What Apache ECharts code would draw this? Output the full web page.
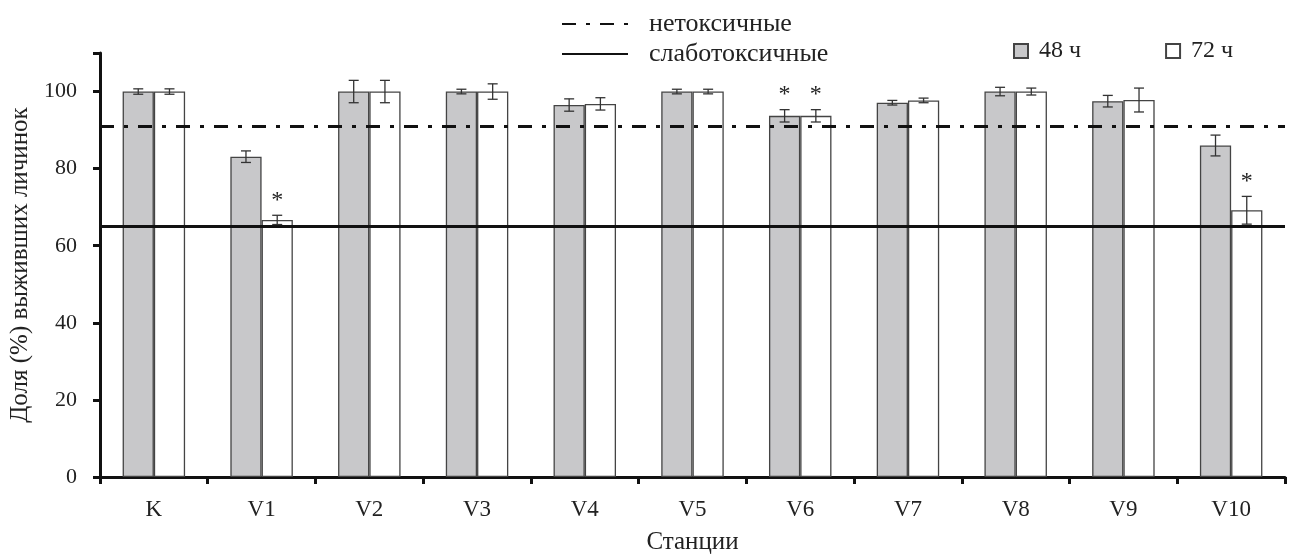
<!DOCTYPE html>
<html>
<head>
<meta charset="utf-8">
<script src="https://cdn.jsdelivr.net/npm/echarts@6/dist/echarts.min.js"></script>
<style>
html,body{margin:0;padding:0;background:#fff;}
#chart{width:1290px;height:555px;}
</style>
</head>
<body>
<div id="chart"></div>
<script>
const categories = ['K','V1','V2','V3','V4','V5','V6','V7','V8','V9','V10'];
const mean48 = [100, 83.1, 100, 100, 96.5, 100, 93.7, 97.1, 100, 97.5, 86.0];
const err48  = [0.7, 1.5, 2.9, 0.6, 1.6, 0.6, 1.6, 0.6, 1.1, 1.5, 2.7];
const mean72 = [100, 66.7, 100, 100, 96.8, 100, 93.7, 97.7, 100, 97.8, 69.2];
const err72  = [0.7, 1.2, 2.9, 2.0, 1.6, 0.6, 1.6, 0.6, 0.9, 3.1, 3.6];
const sig48  = [0,0,0,0,0,0,1,0,0,0,0];
const sig72  = [0,1,0,0,0,0,1,0,0,0,1];
const nonToxic = 91;
const weakToxic = 65;
const yTicks = [0,20,40,60,80,100];

const FONT = '"Liberation Serif", "DejaVu Serif", serif';
const BAR_CAT_GAP = 0.42;
const DASHDOT = [14, 10, 4, 10];

function errData(means, errs, sigs, sign) {
  return means.map((m, i) => [i, m, errs[i], sigs[i], sign]);
}

function renderErr(params, api) {
  const idx = api.value(0);
  const m = api.value(1), e = api.value(2), sig = api.value(3), sign = api.value(4);
  const band = api.size([1, 0])[0];
  const barW = band * (1 - BAR_CAT_GAP) / 2;
  const c = api.coord([idx, m]);
  const cx = c[0] + sign * barW / 2;
  const top = api.coord([idx, m + e])[1];
  const bot = api.coord([idx, m - e])[1];
  const cap = 5;
  const st = {stroke: '#333', lineWidth: 1.3};
  const children = [
    {type: 'line', shape: {x1: cx, y1: top, x2: cx, y2: bot}, style: st},
    {type: 'line', shape: {x1: cx - cap, y1: top, x2: cx + cap, y2: top}, style: st},
    {type: 'line', shape: {x1: cx - cap, y1: bot, x2: cx + cap, y2: bot}, style: st}
  ];
  if (sig) {
    children.push({type: 'text', style: {text: '*', x: cx, y: top - 3, fill: '#222',
      font: '24px ' + FONT, textAlign: 'center', textVerticalAlign: 'bottom'}});
  }
  return {type: 'group', children: children};
}

const chart = echarts.init(document.getElementById('chart'));
chart.setOption({
  animation: false,
  backgroundColor: '#fff',
  textStyle: {fontFamily: FONT, color: '#222'},
  grid: {left: 100, right: 5, top: 53, bottom: 78, outerBoundsMode: 'none', containLabel: false},
  legend: [
    {
      data: [
        {name: 'нетоксичные', itemStyle: {opacity: 0}},
        {name: 'слаботоксичные', itemStyle: {opacity: 0}}
      ],
      orient: 'vertical', left: 556, top: 6, itemWidth: 66, itemHeight: 16, itemGap: 4,
      textStyle: {fontFamily: FONT, fontSize: 26, color: '#222', padding: [0, 0, 0, 16]}
    },
    {
      data: [{name: '48 ч', icon: 'rect'}, {name: '72 ч', icon: 'rect'}],
      orient: 'horizontal', left: 1008, top: 34, itemWidth: 14, itemHeight: 14, itemGap: 84,
      textStyle: {fontFamily: FONT, fontSize: 24, color: '#222', padding: [0, 0, 0, 6]}
    }
  ],
  xAxis: {
    type: 'category', data: categories,
    name: 'Станции', nameLocation: 'middle', nameGap: 53,
    nameTextStyle: {fontFamily: FONT, fontSize: 25, color: '#222'},
    axisLine: {lineStyle: {color: '#111', width: 3}},
    axisTick: {show: true, length: 7, lineStyle: {color: '#111', width: 3}},
    axisLabel: {fontFamily: FONT, fontSize: 23, color: '#222', margin: 21}
  },
  yAxis: {
    type: 'value', min: 0, max: 110, interval: 20,
    name: 'Доля (%) выживших личинок', nameLocation: 'middle', nameGap: 66,
    nameTextStyle: {fontFamily: FONT, fontSize: 25, color: '#222'},
    axisLine: {show: true, lineStyle: {color: '#111', width: 3}},
    axisTick: {show: true, length: 7, lineStyle: {color: '#111', width: 3}},
    axisLabel: {fontFamily: FONT, fontSize: 22, color: '#222', margin: 23,
      formatter: v => yTicks.indexOf(v) >= 0 ? String(v) : ''},
    splitLine: {show: false}
  },
  series: [
    {
      name: '48 ч', type: 'bar', data: mean48, barGap: '0%', barCategoryGap: (BAR_CAT_GAP * 100) + '%',
      itemStyle: {color: '#c8c8ca', borderColor: '#444', borderWidth: 1.3}
    },
    {
      name: '72 ч', type: 'bar', data: mean72, barGap: '0%', barCategoryGap: (BAR_CAT_GAP * 100) + '%',
      itemStyle: {color: '#ffffff', borderColor: '#444', borderWidth: 1.3}
    },
    {
      name: 'нетоксичные', type: 'line', data: [], symbol: 'none',
      lineStyle: {color: '#111', width: 3.5, type: DASHDOT},
      itemStyle: {color: '#111'},
      markLine: {silent: true, symbol: 'none', label: {show: false},
        lineStyle: {color: '#111', width: 3, type: DASHDOT},
        data: [{yAxis: nonToxic}]}
    },
    {
      name: 'слаботоксичные', type: 'line', data: [], symbol: 'none',
      lineStyle: {color: '#111', width: 3.5, type: 'solid'},
      itemStyle: {color: '#111'},
      markLine: {silent: true, symbol: 'none', label: {show: false},
        lineStyle: {color: '#111', width: 3, type: 'solid'},
        data: [{yAxis: weakToxic}]}
    },
    {
      type: 'custom', renderItem: renderErr, data: errData(mean48, err48, sig48, -1),
      encode: {x: 0, y: 1}, z: 5, silent: true
    },
    {
      type: 'custom', renderItem: renderErr, data: errData(mean72, err72, sig72, 1),
      encode: {x: 0, y: 1}, z: 5, silent: true
    }
  ]
});
</script>
</body>
</html>
